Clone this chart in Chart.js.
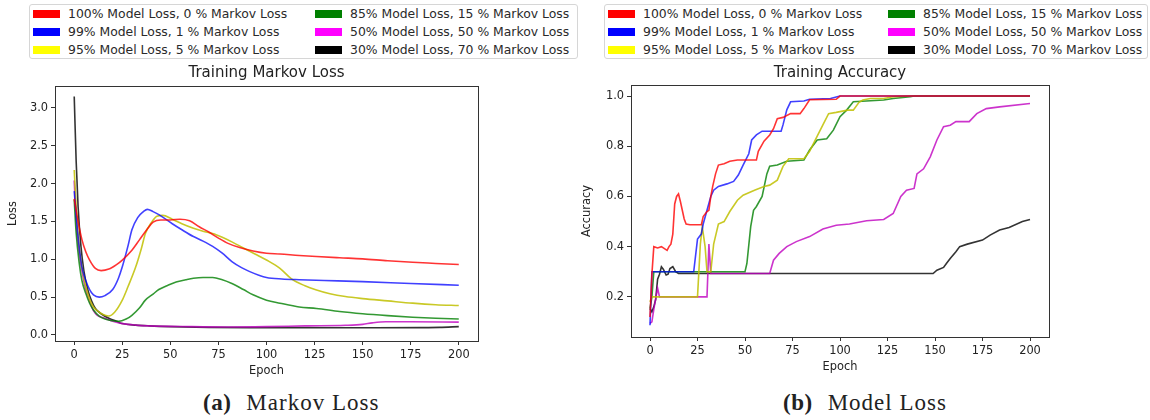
<!DOCTYPE html>
<html>
<head>
<meta charset="utf-8">
<script src="https://cdn.jsdelivr.net/npm/chart.js@4.4.1/dist/chart.umd.min.js"></script>
<style>
  body { margin: 0; width: 1150px; height: 420px; background: #fff; position: relative; overflow: hidden;
         font-family: 'DejaVu Sans', sans-serif; color: #222; }
  .wrap { position: absolute; top: 60px; width: 575px; height: 322px; }
  .legend { position: absolute; top: 4px; height: 55px; border: 1px solid #d6d6d6; border-radius: 3px; box-sizing: border-box; }
  .legend .item { position: absolute; height: 18px; line-height: 18px; font-size: 12.4px; white-space: nowrap; color: #2a2a2a; }
  .legend .sw { position: absolute; top: 5px; left: 0; width: 27px; height: 8px; }
  .legend .tx { position: absolute; left: 35px; top: 0; }
  .caption { position: absolute; top: 390px; font-family: 'Liberation Serif', serif; font-size: 23px; letter-spacing: 1px; white-space: nowrap; }
  .caption b { margin-right: 15px; letter-spacing: 0.5px; }
</style>
</head>
<body>
<div class="legend" id="legendA" style="left:29px; width:549px;"></div>
<div class="legend" id="legendB" style="left:604px; width:544px;"></div>
<div class="wrap" style="left:0;"><canvas id="lossChart" width="575" height="322"></canvas></div>
<div class="wrap" style="left:575px;"><canvas id="accChart" width="575" height="322"></canvas></div>
<div class="caption" style="left:203px;"><b>(a)</b>Markov Loss</div>
<div class="caption" style="left:783px;"><b>(b)</b>Model Loss</div>

<script>
// ---- data ----
const seriesNames = [
  '100% Model Loss, 0 % Markov Loss',
  '99% Model Loss, 1 % Markov Loss',
  '95% Model Loss, 5 % Markov Loss',
  '85% Model Loss, 15 % Markov Loss',
  '50% Model Loss, 50 % Markov Loss',
  '30% Model Loss, 70 % Markov Loss'
];
const legendColors = ['#ff0000', '#0000ff', '#ffff00', '#008000', '#ff00ff', '#000000'];
const lineColors = ['rgba(255,0,0,0.8)', 'rgba(0,0,255,0.75)', 'rgba(191,191,0,0.85)',
                    'rgba(0,128,0,0.8)', 'rgba(191,0,191,0.8)', 'rgba(0,0,0,0.8)'];

const epochTicks = [0, 25, 50, 75, 100, 125, 150, 175, 200];
const lossTicks = [0, 0.5, 1.0, 1.5, 2.0, 2.5, 3.0];
const accTicks = [0.2, 0.4, 0.6, 0.8, 1.0];

// Markov loss, [epoch, loss]
const lossRed = [[0,1.80],[2,1.50],[4,1.26],[6,1.10],[8,0.99],[11,0.88],[14,0.85],[18,0.87],[22,0.93],[25,0.99],[30,1.12],[34,1.26],[38,1.40],[41,1.49],[45,1.52],[50,1.52],[55,1.53],[60,1.51],[65,1.43],[70,1.36],[75,1.28],[80,1.21],[86,1.155],[93,1.11],[100,1.08],[107,1.07],[117,1.05],[126,1.036],[138,1.02],[150,1.005],[163,0.98],[176,0.96],[188,0.945],[200,0.93]];
const lossBlue = [[0,1.90],[2,1.30],[4,0.90],[6,0.72],[8,0.60],[10,0.53],[13,0.50],[16,0.52],[20,0.60],[23,0.75],[25,0.90],[28,1.18],[30,1.39],[33,1.55],[36,1.63],[38,1.66],[41,1.63],[44,1.59],[51,1.47],[56,1.39],[62,1.30],[67,1.24],[72,1.17],[77,1.08],[82,0.97],[87,0.89],[91,0.84],[96,0.79],[100,0.76],[108,0.74],[117,0.73],[130,0.72],[150,0.705],[175,0.68],[200,0.657]];
const lossYellow = [[0,2.18],[1,1.70],[2.6,1.17],[4,0.90],[6,0.64],[8,0.47],[10,0.37],[13,0.30],[16,0.26],[18,0.25],[21,0.30],[25,0.46],[28,0.64],[32,0.90],[35,1.15],[37,1.34],[40,1.48],[43,1.57],[46,1.58],[51,1.53],[56,1.47],[62,1.41],[67,1.37],[72,1.34],[77,1.29],[82,1.23],[88,1.15],[94,1.07],[100,0.99],[107,0.88],[113,0.74],[120,0.65],[126,0.595],[133,0.545],[141,0.507],[150,0.48],[163,0.45],[176,0.42],[188,0.40],[200,0.39]];
const lossGreen = [[0,1.79],[1,1.35],[2.6,0.95],[4,0.72],[6,0.55],[8,0.42],[10,0.33],[13,0.25],[16,0.21],[19,0.19],[23,0.18],[27,0.21],[30,0.26],[34,0.36],[37,0.46],[41,0.54],[44,0.60],[49,0.66],[53,0.70],[58,0.73],[62,0.75],[67,0.76],[72,0.76],[77,0.73],[82,0.68],[88,0.60],[93,0.53],[100,0.46],[107,0.42],[117,0.37],[126,0.35],[138,0.31],[150,0.28],[163,0.255],[176,0.234],[188,0.22],[200,0.21]];
const lossMagenta = [[0,2.04],[1,1.50],[2.6,1.08],[4,0.85],[6,0.60],[8,0.45],[10,0.32],[12,0.26],[16,0.22],[20,0.18],[25,0.15],[32,0.13],[39,0.12],[60,0.11],[80,0.105],[100,0.11],[120,0.12],[141,0.128],[150,0.14],[155,0.16],[162,0.175],[175,0.175],[200,0.17]];
const lossBlack = [[0,3.15],[1,2.30],[2,1.70],[3.5,1.17],[5,0.85],[7,0.60],[9,0.45],[11,0.35],[14,0.28],[18,0.22],[22,0.18],[25,0.15],[32,0.13],[39,0.12],[50,0.11],[70,0.10],[100,0.097],[150,0.095],[180,0.097],[190,0.10],[200,0.11]];

// Training accuracy, [epoch, accuracy]
const accRed = [[0,0.12],[1,0.29],[2,0.40],[4,0.395],[6,0.40],[8,0.39],[9,0.385],[10,0.40],[11,0.41],[12,0.45],[13,0.57],[14,0.60],[15,0.61],[16,0.58],[17,0.545],[18,0.51],[19,0.49],[21,0.487],[27,0.487],[28,0.52],[30,0.54],[31,0.545],[32,0.60],[33,0.64],[34.5,0.69],[36,0.725],[39,0.73],[42,0.74],[46,0.745],[56,0.745],[57,0.78],[60,0.82],[63,0.845],[65,0.87],[67,0.91],[70,0.915],[74,0.93],[79,0.93],[81,0.95],[84,0.985],[98,0.987],[100,1.0],[200,1.0]];
const accBlue = [[0,0.087],[1,0.30],[23,0.30],[25,0.43],[27,0.45],[28,0.49],[30,0.545],[32,0.60],[33.5,0.625],[36,0.64],[40.5,0.65],[44,0.66],[46.5,0.685],[49,0.725],[52,0.77],[53.5,0.825],[56,0.845],[59,0.86],[69,0.86],[70,0.885],[72,0.945],[74,0.977],[81,0.98],[84,0.987],[95,0.99],[100,1.0],[200,1.0]];
const accYellow = [[0,0.18],[1,0.20],[25,0.20],[26.5,0.41],[27.5,0.48],[29,0.40],[30,0.30],[32,0.30],[33.5,0.41],[36,0.49],[39,0.50],[42,0.54],[46,0.585],[49,0.605],[55,0.625],[60,0.64],[63,0.645],[67,0.665],[70,0.72],[73,0.75],[81,0.75],[84,0.78],[88,0.84],[91,0.885],[94,0.93],[98,0.935],[104,0.944],[107,0.944],[110,0.975],[112,0.984],[116,0.99],[123,0.99],[128,0.997],[137,1.0],[200,1.0]];
const accGreen = [[0,0.153],[1,0.20],[2,0.30],[50,0.30],[51,0.333],[53,0.48],[54.5,0.545],[56,0.56],[59,0.60],[61.5,0.69],[63,0.72],[67,0.725],[72,0.74],[81,0.745],[84,0.785],[88,0.825],[93,0.83],[96.5,0.864],[100,0.918],[103.5,0.944],[107,0.977],[123,0.984],[128,0.99],[137,0.997],[139,1.0],[200,1.0]];
const accMagenta = [[0,0.094],[1,0.10],[2,0.15],[4,0.235],[5,0.20],[30,0.20],[31,0.41],[32,0.293],[63,0.293],[65,0.346],[68,0.373],[72,0.40],[77,0.42],[84,0.44],[91,0.47],[98,0.485],[105,0.49],[114,0.503],[123,0.508],[128,0.532],[132,0.60],[135,0.625],[139,0.632],[140.5,0.69],[144,0.71],[147.5,0.758],[151,0.825],[154.5,0.878],[158,0.884],[161,0.898],[168,0.898],[172,0.93],[177,0.95],[184,0.957],[200,0.97]];
const accBlack = [[0,0.153],[1,0.14],[2,0.16],[3,0.19],[4,0.27],[5,0.29],[6,0.32],[7,0.31],[8.5,0.287],[9.5,0.29],[10.5,0.313],[12,0.32],[13.5,0.30],[15,0.293],[149,0.293],[151,0.306],[154.5,0.317],[156,0.333],[158,0.353],[161,0.38],[163,0.40],[167,0.41],[175,0.426],[179,0.446],[184,0.466],[189,0.476],[196,0.50],[200,0.508]];

// ---- helpers ----
const textColor = '#222';
const axisColor = '#333';
const tickFont = { family: "'DejaVu Sans', sans-serif", size: 11.4 };

// matplotlib style box round the plot area
const framePlugin = {
  id: 'frame',
  afterDraw(chart) {
    const { ctx, chartArea: a } = chart;
    ctx.save();
    ctx.strokeStyle = axisColor;
    ctx.lineWidth = 1;
    ctx.strokeRect(Math.round(a.left) + 0.5, Math.round(a.top) + 0.5,
                   Math.round(a.right - a.left), Math.round(a.bottom - a.top));
    ctx.restore();
  }
};

function makeDatasets(seriesList, smooth) {
  return seriesList.map((pts, i) => ({
    label: seriesNames[i],
    data: pts.map(p => ({ x: p[0], y: p[1] })),
    borderColor: lineColors[i],
    borderWidth: 1.6,
    pointRadius: 0,
    fill: false,
    tension: smooth ? 0.4 : 0,
    cubicInterpolationMode: smooth ? 'monotone' : 'default'
  }));
}

function axis(cfg) {
  return {
    type: 'linear',
    min: cfg.min,
    max: cfg.max,
    afterBuildTicks: s => { s.ticks = cfg.ticks.map(v => ({ value: v })); },
    afterFit: s => { if (cfg.width) s.width = cfg.width; if (cfg.height) s.height = cfg.height; },
    grid: { display: true, drawOnChartArea: false, drawTicks: true, tickLength: 4, color: axisColor },
    border: { display: false },
    ticks: { color: textColor, font: tickFont, padding: 3, autoSkip: false, maxRotation: 0,
             callback: cfg.format },
    title: { display: true, text: cfg.title, color: textColor, font: tickFont, padding: cfg.titlePad }
  };
}

function buildLegend(elId, chart, col2) {
  const box = document.getElementById(elId);
  chart.data.datasets.forEach((ds, i) => {
    const item = document.createElement('div');
    item.className = 'item';
    item.style.left = (3 + (i >= 3 ? col2 : 0)) + 'px';
    item.style.top = (0 + 18 * (i % 3)) + 'px';
    item.innerHTML = '<span class="sw" style="background:' + legendColors[i] + '"></span>' +
                     '<span class="tx">' + ds.label + '</span>';
    box.appendChild(item);
  });
}

function lineChart(canvasId, cfg) {
  const ctx = document.getElementById(canvasId).getContext('2d');
  return new Chart(ctx, {
    type: 'line',
    data: { datasets: cfg.datasets },
    plugins: [framePlugin],
    options: {
      responsive: false,
      animation: false,
      devicePixelRatio: 1,
      layout: { padding: { left: 0, right: cfg.padRight, top: 0, bottom: 0 } },
      plugins: {
        legend: { display: false },
        tooltip: { enabled: false },
        title: {
          display: true, text: cfg.title, fullSize: false, color: textColor,
          font: { family: "'DejaVu Sans', sans-serif", size: 15, weight: 'normal' },
          padding: cfg.titlePad
        }
      },
      scales: {
        x: axis({ min: -10, max: 210, ticks: epochTicks, height: cfg.xHeight, title: 'Epoch',
                  titlePad: { top: 0, bottom: cfg.xTitleBottom }, format: v => String(v) }),
        y: axis({ min: cfg.yMin, max: cfg.yMax, ticks: cfg.yTicks, width: cfg.yWidth, title: cfg.yTitle,
                  titlePad: { top: cfg.yTitleTop, bottom: 0 }, format: v => v.toFixed(1) })
      }
    }
  });
}

const lossChart = lineChart('lossChart', {
  datasets: makeDatasets([lossRed, lossBlue, lossYellow, lossGreen, lossMagenta, lossBlack], true),
  title: 'Training Markov Loss', titlePad: { top: 4, bottom: 4 },
  padRight: 97, yWidth: 55, xHeight: 41, xTitleBottom: 4,
  yMin: -0.08, yMax: 3.29, yTicks: lossTicks, yTitle: 'Loss', yTitleTop: 6
});

const accChart = lineChart('accChart', {
  datasets: makeDatasets([accRed, accBlue, accYellow, accGreen, accMagenta, accBlack], false),
  title: 'Training Accuracy', titlePad: { top: 4, bottom: 3 },
  padRight: 101, yWidth: 56, xHeight: 45, xTitleBottom: 8,
  yMin: 0.04, yMax: 1.044, yTicks: accTicks, yTitle: 'Accuracy', yTitleTop: 5
});

buildLegend('legendA', lossChart, 282);
buildLegend('legendB', accChart, 280);
</script>
</body>
</html>
